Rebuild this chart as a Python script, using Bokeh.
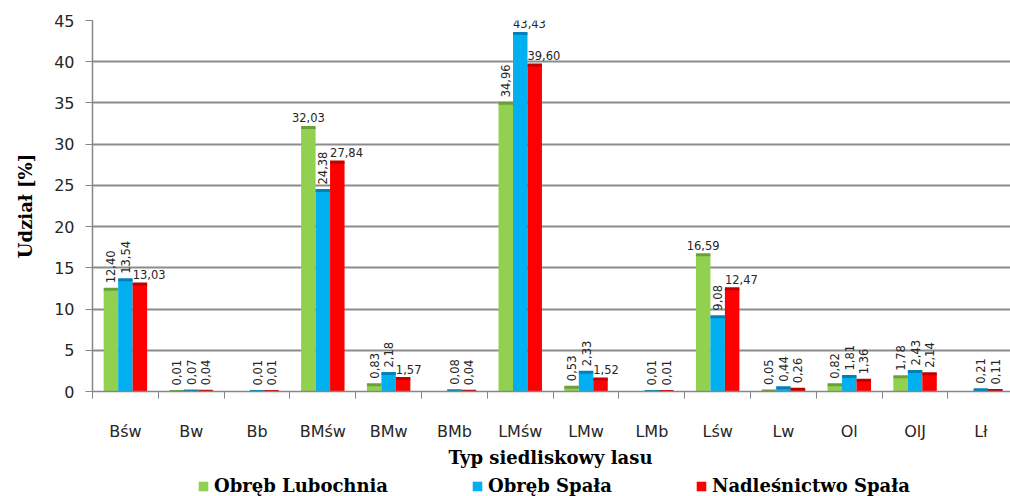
import math
from bokeh.plotting import figure
from bokeh.layouts import column
from bokeh.models import (ColumnDataSource, FixedTicker, Legend, LegendItem,
                          Range1d, Label)
from bokeh.core.properties import value
from bokeh.embed import file_html
from bokeh.resources import INLINE

# ---------------- data ----------------
categories = ["Bśw", "Bw", "Bb", "BMśw", "BMw", "BMb", "LMśw", "LMw", "LMb",
              "Lśw", "Lw", "Ol", "OlJ", "Lł"]
series_names = ["Obręb Lubochnia", "Obręb Spała", "Nadleśnictwo Spała"]
lubochnia = [12.40, 0.01, None, 32.03, 0.83, None, 34.96, 0.53, None,
             16.59, 0.05, 0.82, 1.78, None]
spala = [13.54, 0.07, 0.01, 24.38, 2.18, 0.08, 43.43, 2.33, 0.01,
         9.08, 0.44, 1.81, 2.43, 0.21]
nadlesnictwo = [13.03, 0.04, 0.01, 27.84, 1.57, 0.04, 39.60, 1.52, 0.01,
                12.47, 0.26, 1.36, 2.14, 0.11]
y_ticks = [0, 5, 10, 15, 20, 25, 30, 35, 40, 45]
x_title = "Typ siedliskowy lasu"
y_title = "Udział [%]"

# label placement modes (v = vertical, c = centred, l = left aligned)
lubochnia_modes = ["v", "v", "", "c", "v", "", "v", "v", "", "c", "v", "v", "v", ""]
spala_modes = ["v", "v", "v", "v", "v", "v", "l", "v", "v", "v", "v", "v", "v", "v"]
nadlesnictwo_modes = ["l", "v", "v", "l", "l", "v", "l", "l", "v", "l", "v", "v", "v", "v"]

# ---------------- styling ----------------
fill_colors = ["#92D050", "#00B0F0", "#FF0000"]
top_colors = ["#6E9E3A", "#0082B8", "#C00000"]
offsets = [-0.22, 0.0, 0.22]
bar_w = 0.22
axis_grey = "#868686"
txt = "#262626"
sans = "DejaVu Sans"
serif = "DejaVu Serif"

p = figure(width=1010, height=443,
           x_range=Range1d(-0.5, 13.45), y_range=Range1d(0, 45),
           output_backend="svg", toolbar_location=None,
           min_border_left=92, min_border_top=20, min_border_right=0,
           min_border_bottom=48)
p.outline_line_color = None
p.background_fill_color = "white"
p.border_fill_color = "white"

# grid
p.xgrid.grid_line_color = None
p.ygrid.ticker = FixedTicker(ticks=y_ticks)
p.ygrid.grid_line_color = "#8c8c8c"
p.ygrid.grid_line_width = 2

# y axis
p.yaxis.ticker = FixedTicker(ticks=y_ticks)
p.yaxis.axis_line_color = axis_grey
p.yaxis.axis_line_width = 1.5
p.yaxis.major_tick_line_color = axis_grey
p.yaxis.major_tick_out = 7
p.yaxis.major_tick_in = 0
p.yaxis.minor_tick_line_color = None
p.yaxis.major_label_standoff = 11
p.yaxis.major_label_text_font = sans
p.yaxis.major_label_text_font_size = "16px"
p.yaxis.major_label_text_color = txt
p.yaxis.axis_label = y_title
p.yaxis.axis_label_text_font = serif
p.yaxis.axis_label_text_font_style = "bold"
p.yaxis.axis_label_text_font_size = "18px"
p.yaxis.axis_label_text_color = "black"
p.yaxis.axis_label_standoff = 15

# x axis
p.xaxis.ticker = FixedTicker(ticks=list(range(len(categories))),
                             minor_ticks=[k - 0.5 for k in range(len(categories) + 1)])
p.xaxis.major_label_overrides = {k: c for k, c in enumerate(categories)}
p.xaxis.axis_line_color = axis_grey
p.xaxis.axis_line_width = 1.5
p.xaxis.major_tick_line_color = None
p.xaxis.minor_tick_line_color = axis_grey
p.xaxis.minor_tick_out = 7
p.xaxis.minor_tick_in = 0
p.xaxis.major_label_standoff = 23
p.xaxis.major_label_text_font = sans
p.xaxis.major_label_text_font_size = "16px"
p.xaxis.major_label_text_color = txt

# strip below the chart carrying the x-axis title and the legend
p2 = figure(width=1010, height=53, output_backend="svg", toolbar_location=None,
            x_axis_location=None, y_axis_location=None,
            x_range=Range1d(0, 1), y_range=Range1d(0, 1), min_border=0)
p2.outline_line_color = None
p2.xgrid.grid_line_color = None
p2.ygrid.grid_line_color = None
p2.add_layout(Label(x=458, y=39, x_units="screen", y_units="screen", text=x_title,
                    text_font=serif, text_font_style="bold", text_font_size="18px",
                    text_color="black", text_align="center", text_baseline="middle"))

legend_items = []
all_series = [lubochnia, spala, nadlesnictwo]
all_modes = [lubochnia_modes, spala_modes, nadlesnictwo_modes]

for i, vals in enumerate(all_series):
    xs, tops = [], []
    vx, vy, vt = [], [], []
    cx, cy, ct = [], [], []
    lx, ly, lt = [], [], []
    for k, v in enumerate(vals):
        if v is None:
            continue
        x = k + offsets[i]
        xs.append(x)
        tops.append(v)
        s = f"{v:.2f}".replace(".", ",")
        m = all_modes[i][k]
        if m == "v":
            vx.append(x); vy.append(v); vt.append(s)
        elif m == "c":
            cx.append(x); cy.append(v); ct.append(s)
        elif m == "l":
            lx.append(x - bar_w / 2); ly.append(v); lt.append(s)
    src = ColumnDataSource(data=dict(x=xs, top=tops))
    p.vbar(x="x", top="top", bottom=0, width=bar_w, source=src,
           fill_color=fill_colors[i], line_color=None)
    p.rect(x="x", y="top", width=bar_w, height=3, height_units="screen",
           source=src, fill_color=top_colors[i], line_color=None)

    common = dict(text_font=value(sans), text_font_size="11.5px", text_color=txt)
    p.text(x=vx, y=vy, text=vt, angle=math.pi / 2, text_align="left",
           text_baseline="middle", y_offset=-6, **common)
    p.text(x=cx, y=cy, text=ct, text_align="center", text_baseline="bottom",
           y_offset=-5, **common)
    p.text(x=lx, y=ly, text=lt, text_align="left", text_baseline="bottom",
           y_offset=-5, **common)

    # legend swatch renderer (its mark sits outside the strip's visible range)
    r2 = p2.vbar(x=[-5], top=[-5], bottom=-6, width=0.1,
                 fill_color=fill_colors[i], line_color=None)
    legend_items.append(LegendItem(label=series_names[i], renderers=[r2]))

legend = Legend(items=legend_items, orientation="horizontal", location=(105, 0),
                label_text_font=serif, label_text_font_style="bold",
                label_text_font_size="18px", label_text_color="black",
                glyph_width=12, glyph_height=12, label_standoff=5,
                label_height=20, spacing=83, padding=0, margin=0,
                border_line_color=None, background_fill_alpha=0)
p2.add_layout(legend, "center")

layout = column(p, p2, spacing=0)
open("out.html", "w").write(file_html(layout, INLINE))
